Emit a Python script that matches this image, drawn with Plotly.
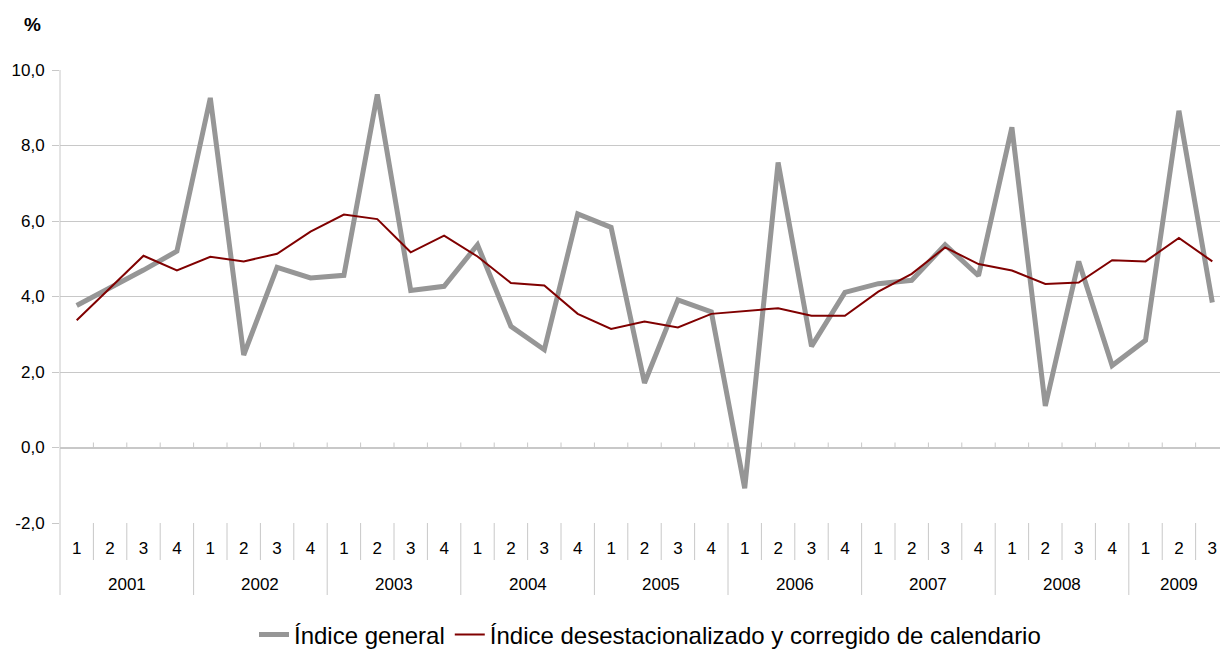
import plotly.graph_objects as go

years = ["2001", "2002", "2003", "2004", "2005", "2006", "2007", "2008", "2009"]
quarters_per_year = [4, 4, 4, 4, 4, 4, 4, 4, 3]
quarter_labels = ["1", "2", "3", "4"] * 8 + ["1", "2", "3"]

indice_general = [3.76, 4.22, 4.70, 5.20, 9.26, 2.45, 4.77, 4.49, 4.56, 9.35,
                  4.16, 4.27, 5.37, 3.21, 2.59, 6.19, 5.83, 1.71, 3.91, 3.59,
                  -1.08, 7.55, 2.68, 4.11, 4.34, 4.43, 5.37, 4.55, 8.48, 1.10,
                  4.93, 2.17, 2.84, 8.92, 3.84]
indice_desest = [3.37, 4.22, 5.08, 4.69, 5.05, 4.93, 5.13, 5.72, 6.17, 6.05,
                 5.17, 5.61, 5.06, 4.36, 4.29, 3.54, 3.14, 3.34, 3.18, 3.54,
                 3.62, 3.69, 3.49, 3.49, 4.13, 4.60, 5.30, 4.86, 4.69, 4.33,
                 4.37, 4.96, 4.93, 5.55, 4.93]

y_ticks = [-2, 0, 2, 4, 6, 8, 10]
y_tick_text = ["-2,0", "0,0", "2,0", "4,0", "6,0", "8,0", "10,0"]

FONT = "Liberation Sans, Arial, sans-serif"
GRID = "#c8c8c8"
W, H = 1220, 651
ML, MR, MT, MB = 60, 0, 70, 128
PH = H - MT - MB

n = len(quarter_labels)
xs = list(range(n))

fig = go.Figure()
fig.add_trace(go.Scatter(x=xs, y=indice_general, mode="lines", name="Índice general",
                         line=dict(color="#969696", width=5)))
fig.add_trace(go.Scatter(x=xs, y=indice_desest, mode="lines",
                         name="Índice desestacionalizado y corregido de calendario",
                         line=dict(color="#800000", width=2)))

shapes = []
year_starts = []
s = 0
for q in quarters_per_year:
    year_starts.append(s)
    s += q
year_bounds = set(v - 0.5 for v in year_starts[1:])
for i in range(1, n):
    b = i - 0.5
    depth = 72 if b in year_bounds else 37
    shapes.append(dict(type="line", xref="x", yref="paper", x0=b, x1=b,
                       y0=0, y1=-depth / PH, line=dict(color=GRID, width=1)))
    shapes.append(dict(type="line", xref="x", yref="y", x0=b, x1=b,
                       y0=0, y1=5 / 37.73, line=dict(color=GRID, width=1)))
shapes.append(dict(type="line", xref="paper", yref="paper", x0=0, x1=0,
                   y0=1, y1=-72 / PH, line=dict(color=GRID, width=1)))

annotations = []
for yr, st, q in zip(years, year_starts, quarters_per_year):
    annotations.append(dict(x=st + (q - 1) / 2, y=-61 / PH, xref="x", yref="paper",
                            text=yr, showarrow=False, xanchor="center", yanchor="middle",
                            font=dict(family=FONT, size=17, color="#000000")))
annotations.append(dict(x=(32 - ML) / (W - ML - MR), y=1 + (MT - 25) / PH,
                        xref="paper", yref="paper", text="<b>%</b>", showarrow=False,
                        xanchor="center", yanchor="middle",
                        font=dict(family=FONT, size=19, color="#000000")))

fig.update_layout(
    width=W, height=H,
    margin=dict(l=ML, r=MR, t=MT, b=MB, autoexpand=False),
    paper_bgcolor="white", plot_bgcolor="white",
    font=dict(family=FONT, size=17, color="#000000"),
    showlegend=True,
    legend=dict(orientation="h", x=(254 - ML) / (W - ML - MR), xanchor="left",
                y=-(635 - (H - MB)) / PH, yanchor="middle",
                font=dict(family=FONT, size=24, color="#000000"),
                bgcolor="rgba(0,0,0,0)"),
    xaxis=dict(range=[-0.5, n - 0.5 - 0.27], tickmode="array", tickvals=xs,
               ticktext=quarter_labels, ticks="", showgrid=False, zeroline=False,
               showline=False, tickfont=dict(family=FONT, size=17, color="#000000"),
               ticklabelstandoff=13, automargin=False, fixedrange=True),
    yaxis=dict(range=[-2, 10], tickmode="array", tickvals=y_ticks, ticktext=y_tick_text,
               showgrid=True, gridcolor=GRID, gridwidth=1,
               zeroline=True, zerolinecolor=GRID, zerolinewidth=2,
               showline=False, ticks="outside", ticklen=7, tickcolor=GRID,
               ticklabelstandoff=4, automargin=False,
               tickfont=dict(family=FONT, size=17, color="#000000"), fixedrange=True),
    shapes=shapes,
    annotations=annotations,
)

fig.write_html("out.html", config={"displayModeBar": False},
               post_script="document.body.style.margin='0';document.body.style.overflow='hidden';")
